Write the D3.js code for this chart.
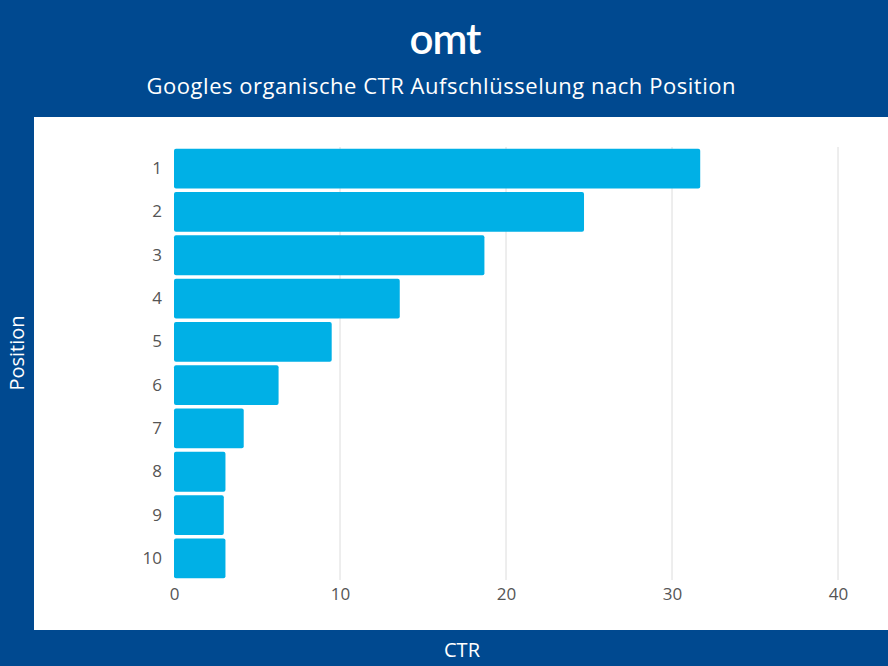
<!DOCTYPE html>
<html>
<head>
<meta charset="utf-8">
<script src="https://cdn.jsdelivr.net/npm/d3@7"></script>
<style>
  body { margin: 0; background: #004990; }
  svg { display: block; font-family: 'Open Sans', Lato, sans-serif; }
</style>
</head>
<body>
<svg width="888" height="666"></svg>
<script>
// data
const positions = ['1', '2', '3', '4', '5', '6', '7', '8', '9', '10']
const ctr = [31.7, 24.7, 18.7, 13.6, 9.5, 6.3, 4.2, 3.1, 3.0, 3.1]
const xTicks = [0, 10, 20, 30, 40]

const svg = d3.select('svg')
const width = 888
const height = 666

svg.append('rect')
    .attr('width', width)
    .attr('height', height)
    .attr('fill', '#004990')

// white panel
svg.append('rect')
    .attr('x', 34)
    .attr('y', 117)
    .attr('width', width - 34)
    .attr('height', 513)
    .attr('fill', '#ffffff')

// logo
svg.append('text')
    .attr('x', 445)
    .attr('y', 54)
    .attr('text-anchor', 'middle')
    .attr('fill', '#ffffff')
    .attr('font-size', 42)
    .attr('font-weight', 600)
    .attr('font-family', 'Lato, sans-serif')
    .attr('letter-spacing', -1)
    .text('omt')

svg.append('text')
    .attr('x', 441)
    .attr('y', 94)
    .attr('text-anchor', 'middle')
    .attr('fill', '#ffffff')
    .attr('font-size', 22)
    .attr('textLength', 589)
    .text('Googles organische CTR Aufschlüsselung nach Position')

const x = d3.scaleLinear()
    .domain([0, 40])
    .range([174, 838])

const y = d3.scaleBand()
    .domain(positions)
    .range([147, 580])
    .paddingInner(0.08)
    .paddingOuter(0.04)

// grid
svg.append('g')
  .selectAll('line')
  .data(xTicks.slice(1))
  .enter().append('line')
    .attr('x1', d => x(d))
    .attr('x2', d => x(d))
    .attr('y1', 147)
    .attr('y2', 580)
    .attr('stroke', '#dcdcdc')
    .attr('stroke-width', 1)

// bars
svg.append('g')
  .selectAll('rect')
  .data(ctr)
  .enter().append('rect')
    .attr('x', x(0))
    .attr('y', (d, i) => y(positions[i]))
    .attr('width', d => x(d) - x(0))
    .attr('height', y.bandwidth())
    .attr('rx', 2)
    .attr('fill', '#00b0e6')

// y axis labels
const yAxis = svg.append('g')
    .attr('transform', `translate(${x(0) - 12}, 0)`)
    .call(d3.axisLeft(y).tickSize(0).tickPadding(0))
yAxis.select('.domain').remove()
yAxis.selectAll('text')
    .attr('font-size', 17)
    .attr('fill', '#555555')
    .attr('font-family', '"Open Sans", sans-serif')

// x axis labels
const xAxis = svg.append('g')
    .attr('transform', 'translate(0, 588)')
    .call(d3.axisBottom(x).tickValues(xTicks).tickSize(0).tickPadding(0))
xAxis.select('.domain').remove()
xAxis.selectAll('text')
    .attr('font-size', 17)
    .attr('fill', '#555555')
    .attr('font-family', '"Open Sans", sans-serif')

// axis titles
svg.append('text')
    .attr('x', 462)
    .attr('y', 657)
    .attr('text-anchor', 'middle')
    .attr('fill', '#ffffff')
    .attr('font-size', 20)
    .text('CTR')

svg.append('text')
    .attr('transform', 'translate(24, 353) rotate(-90)')
    .attr('text-anchor', 'middle')
    .attr('fill', '#ffffff')
    .attr('font-size', 20)
    .text('Position')
</script>
</body>
</html>
